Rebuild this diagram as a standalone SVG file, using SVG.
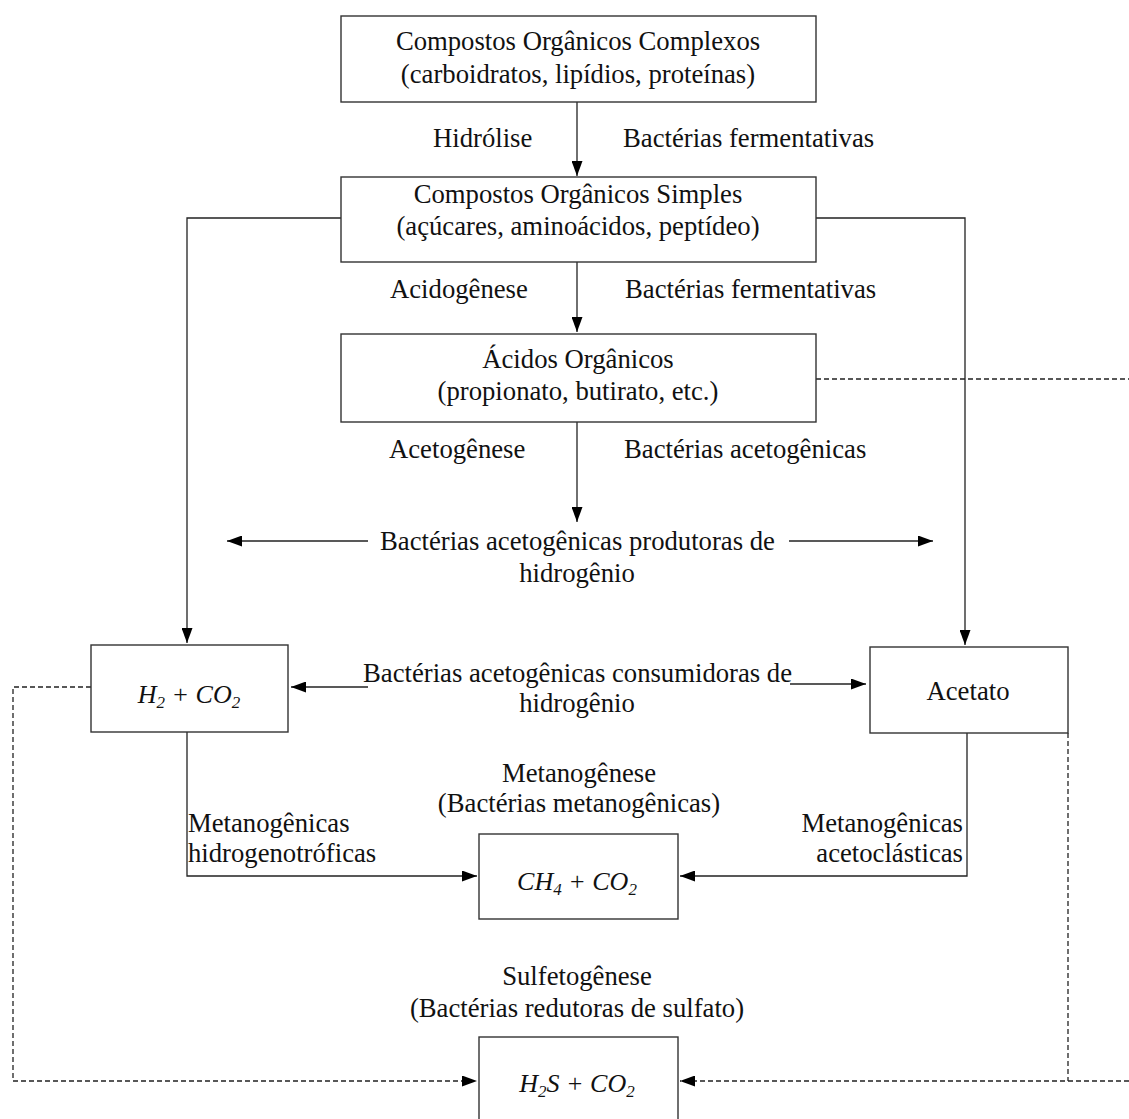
<svg xmlns="http://www.w3.org/2000/svg" width="1129" height="1119" viewBox="0 0 1129 1119">
<defs>
<style>
.box{fill:#fff;stroke:#333;stroke-width:1.4}
.t{font-family:"Liberation Serif","Times New Roman",serif;font-size:26.7px;fill:#111}
.c{text-anchor:middle}
.e{text-anchor:end}
.m{font-family:"Liberation Serif","Times New Roman",serif;font-style:italic;font-size:26px;fill:#111;text-anchor:middle}
.ln{fill:none;stroke:#222;stroke-width:1.3}
.ds{fill:none;stroke:#222;stroke-width:1.3;stroke-dasharray:5 3}
</style>
<marker id="ah" viewBox="0 0 15 11" refX="15" refY="5.5" markerWidth="15" markerHeight="11" markerUnits="userSpaceOnUse" orient="auto">
<path d="M0,0 L15,5.5 L0,11 Z" fill="#000"/>
</marker>
</defs>
<rect width="1129" height="1119" fill="#fff"/>

<g id="connectors">
<line class="ln" x1="577" y1="102" x2="577" y2="176" marker-end="url(#ah)"/>
<polyline class="ln" points="341,218 187,218 187,643" marker-end="url(#ah)"/>
<polyline class="ln" points="816,218 965,218 965,645" marker-end="url(#ah)"/>
<line class="ln" x1="577" y1="262" x2="577" y2="332" marker-end="url(#ah)"/>
<line class="ln" x1="577" y1="422" x2="577" y2="522" marker-end="url(#ah)"/>
<line class="ln" x1="368" y1="541" x2="227" y2="541" marker-end="url(#ah)"/>
<line class="ln" x1="789" y1="541" x2="933" y2="541" marker-end="url(#ah)"/>
<line class="ln" x1="368" y1="687" x2="291" y2="687" marker-end="url(#ah)"/>
<line class="ln" x1="790" y1="684" x2="866" y2="684" marker-end="url(#ah)"/>
<polyline class="ln" points="187,732 187,876 477,876" marker-end="url(#ah)"/>
<polyline class="ln" points="967,733 967,876 680,876" marker-end="url(#ah)"/>
<line class="ds" x1="816" y1="379" x2="1129" y2="379"/>
<polyline class="ds" points="91,687 13,687 13,1081 477,1081" marker-end="url(#ah)"/>
<line class="ds" x1="1068" y1="733" x2="1068" y2="1081"/>
<line class="ds" x1="1129" y1="1081" x2="680" y2="1081" marker-end="url(#ah)"/>
</g>

<g id="n1">
<rect class="box" x="341" y="16" width="475" height="86"/>
<text class="t c" x="578" y="50">Compostos Orgânicos Complexos</text>
<text class="t c" x="578" y="83">(carboidratos, lipídios, proteínas)</text>
</g>
<g id="n2">
<rect class="box" x="341" y="177" width="475" height="85"/>
<text class="t c" x="578" y="203">Compostos Orgânicos Simples</text>
<text class="t c" x="578" y="235">(açúcares, aminoácidos, peptídeo)</text>
</g>
<g id="n3">
<rect class="box" x="341" y="334" width="475" height="88"/>
<text class="t c" x="578" y="368">Ácidos Orgânicos</text>
<text class="t c" x="578" y="400">(propionato, butirato, etc.)</text>
</g>
<g id="n4">
<rect class="box" x="91" y="645" width="197" height="87"/>
<text class="m" x="189" y="703">H<tspan font-size="17" dy="5">2</tspan><tspan dy="-5"> + CO</tspan><tspan font-size="17" dy="5">2</tspan></text>
</g>
<g id="n5">
<rect class="box" x="870" y="647" width="198" height="86"/>
<text class="t c" x="968" y="700">Acetato</text>
</g>
<g id="n6">
<rect class="box" x="479" y="834" width="199" height="85"/>
<text class="m" x="577" y="890">CH<tspan font-size="17" dy="5">4</tspan><tspan dy="-5"> + CO</tspan><tspan font-size="17" dy="5">2</tspan></text>
</g>
<g id="n7">
<rect class="box" x="479" y="1037" width="199" height="90"/>
<text class="m" x="577" y="1092">H<tspan font-size="17" dy="5">2</tspan><tspan dy="-5">S + CO</tspan><tspan font-size="17" dy="5">2</tspan></text>
</g>

<g id="labels">
<text class="t" x="433" y="147">Hidrólise</text>
<text class="t" x="623" y="147">Bactérias fermentativas</text>
<text class="t" x="390" y="298">Acidogênese</text>
<text class="t" x="625" y="298">Bactérias fermentativas</text>
<text class="t" x="389" y="458">Acetogênese</text>
<text class="t" x="624" y="458">Bactérias acetogênicas</text>
<text class="t" x="380" y="550">Bactérias acetogênicas produtoras de</text>
<text class="t c" x="577" y="582">hidrogênio</text>
<text class="t" x="363" y="682">Bactérias acetogênicas consumidoras de</text>
<text class="t c" x="577" y="712">hidrogênio</text>
<text class="t c" x="579" y="782">Metanogênese</text>
<text class="t c" x="579" y="812">(Bactérias metanogênicas)</text>
<text class="t" x="188" y="832">Metanogênicas</text>
<text class="t" x="188" y="862">hidrogenotróficas</text>
<text class="t e" x="963" y="832">Metanogênicas</text>
<text class="t e" x="963" y="862">acetoclásticas</text>
<text class="t c" x="577" y="985">Sulfetogênese</text>
<text class="t c" x="577" y="1017">(Bactérias redutoras de sulfato)</text>
</g>
</svg>
